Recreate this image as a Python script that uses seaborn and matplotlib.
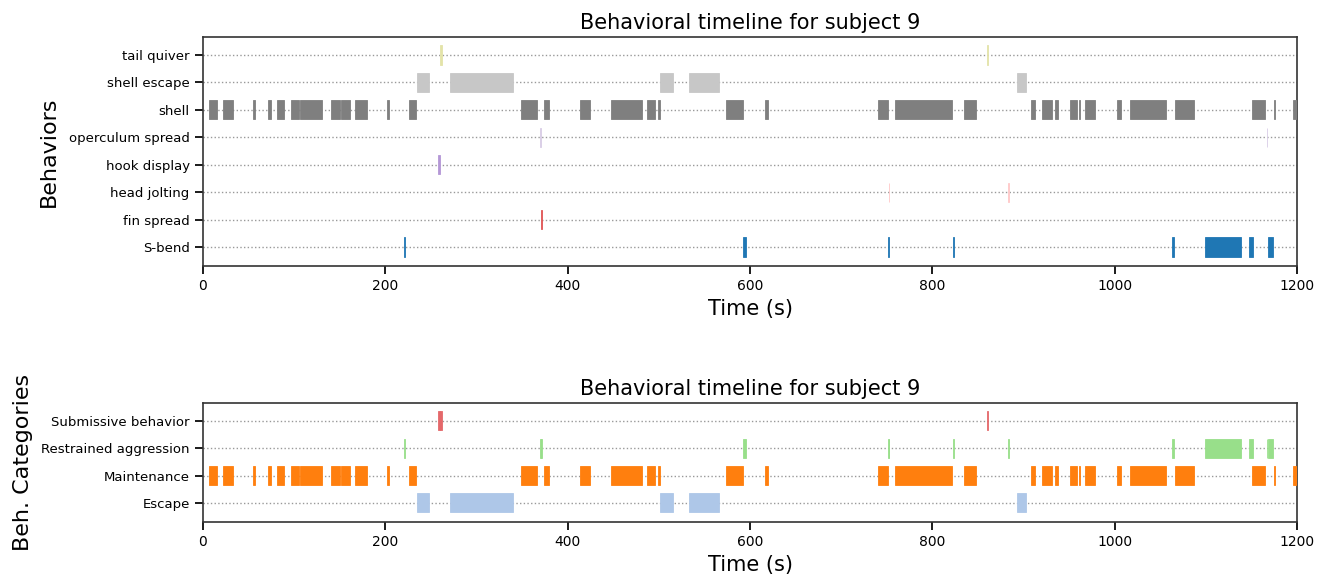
import matplotlib
matplotlib.use('Agg')
import matplotlib.pyplot as plt
import seaborn as sns

#------------------------------------------------
subject=9
t_max=1200

#behaviors, bottom row first
l_beh=['S-bend', 'fin spread', 'head jolting', 'hook display',
       'operculum spread', 'shell', 'shell escape', 'tail quiver']

#behavior colours (tab20 shades)
d_col={'S-bend':'#1f77b4', 'fin spread':'#e05555', 'head jolting':'#ffc8c8',
       'hook display':'#b497d6', 'operculum spread':'#d8cce6', 'shell':'#7f7f7f',
       'shell escape':'#c7c7c7', 'tail quiver':'#e3e3a8'}

#events (start, stop) in seconds
sbend=[(220.3, 221.8), (592.5, 595.5), (751.0, 752.5), (822.5, 823.5),
       (1063.3, 1064.6), (1098.8, 1138.0), (1147.2, 1151.2), (1167.8, 1174.0)]
fin_spread=[(370.7, 371.8)]
head_jolting=[(752.3, 752.8), (883.0, 883.5)]
hook_display=[(258.0, 259.5)]
operculum_spread=[(370.0, 370.5), (1166.8, 1167.3)]
shell=[(6.9, 15.0), (22.3, 32.6), (54.5, 57.0), (71.7, 74.6), (81.5, 88.5),
       (96.2, 105.4), (106.8, 130.9), (140.8, 150.2), (151.6, 161.6), (166.4, 179.6),
       (201.5, 204.4), (225.6, 233.6), (349.2, 366.7), (374.4, 379.9), (413.8, 424.5),
       (447.2, 481.5), (486.7, 496.3), (498.7, 500.9), (573.6, 592.0), (616.4, 620.1),
       (740.4, 751.0), (758.7, 821.9), (834.4, 848.2), (907.8, 912.2), (919.9, 931.6),
       (934.5, 937.5), (951.0, 959.0), (961.2, 962.2), (967.1, 978.4), (1002.9, 1006.6),
       (1017.2, 1056.6), (1066.1, 1086.7), (1150.9, 1164.5), (1174.7, 1175.7),
       (1195.0, 1200.0)]
shell_escape=[(235.1, 247.5), (270.6, 340.4), (501.6, 515.2), (532.7, 566.3),
              (892.8, 903.0)]
tail_quiver=[(260.0, 262.0), (859.5, 860.5)]

d_evt={'S-bend':sbend, 'fin spread':fin_spread, 'head jolting':head_jolting,
       'hook display':hook_display, 'operculum spread':operculum_spread,
       'shell':shell, 'shell escape':shell_escape, 'tail quiver':tail_quiver}

#behavior categories, bottom row first
l_cat=['Escape', 'Maintenance', 'Restrained aggression', 'Submissive behavior']
d_cat_col={'Escape':'#aec7e8', 'Maintenance':'#ff7f0e',
           'Restrained aggression':'#98df8a', 'Submissive behavior':'#e4686a'}
d_map={'S-bend':'Restrained aggression', 'fin spread':'Restrained aggression',
       'head jolting':'Restrained aggression', 'operculum spread':'Restrained aggression',
       'hook display':'Submissive behavior', 'tail quiver':'Submissive behavior',
       'shell':'Maintenance', 'shell escape':'Escape'}

#########################################################
sns.set_theme(style='ticks', rc={'text.color':'black', 'axes.labelcolor':'black',
                                 'xtick.color':'black', 'ytick.color':'black'})
plt.rcParams['font.family']=['DejaVu Sans']


def plt_tl(ax, l_row, d_ev, d_c, ylab, h=0.7):
    for i, row in enumerate(l_row):
        l_ev=d_ev[row]
        if len(l_ev)==0: continue
        ax.barh([i]*len(l_ev), [b-a for a, b in l_ev], left=[a for a, b in l_ev],
                height=h, color=d_c[row], edgecolor=d_c[row], linewidth=0.6, zorder=3)
    #adjust
    ax.set_yticks(range(len(l_row)))
    ax.set_yticklabels(l_row, fontsize=9.5)
    ax.set_ylim(-0.7, len(l_row)-0.35)
    ax.set_xlim(0, t_max)
    ax.set_xticks(range(0, t_max+1, 200))
    ax.tick_params(axis='x', labelsize=10)
    ax.yaxis.grid(True, ls=':', color='#999999', lw=1, zorder=0)
    ax.set_axisbelow(True)
    for s in ax.spines.values():
        s.set_color('#333333')
        s.set_linewidth(1.2)
    ax.set_title(f'Behavioral timeline for subject {subject}', fontsize=15)
    ax.set_xlabel('Time (s)', fontsize=15)
    ax.set_ylabel(ylab, fontsize=16)
    return


#build category events
d_cat={c:[] for c in l_cat}
for beh in l_beh:
    d_cat[d_map[beh]]+=d_evt[beh]

#plot
fig=plt.figure(figsize=(13.29, 5.8), dpi=100)
ax1=fig.add_axes([0.1527, 0.541, 0.8233, 0.395])
ax2=fig.add_axes([0.1527, 0.10, 0.8233, 0.205])

plt_tl(ax1, l_beh, d_evt, d_col, 'Behaviors')
plt_tl(ax2, l_cat, d_cat, d_cat_col, 'Beh. Categories')
ax1.yaxis.set_label_coords(-0.132, 0.5)
ax2.yaxis.set_label_coords(-0.155, 0.5)

#save
plt.savefig('out.png', dpi=100)
plt.close()
